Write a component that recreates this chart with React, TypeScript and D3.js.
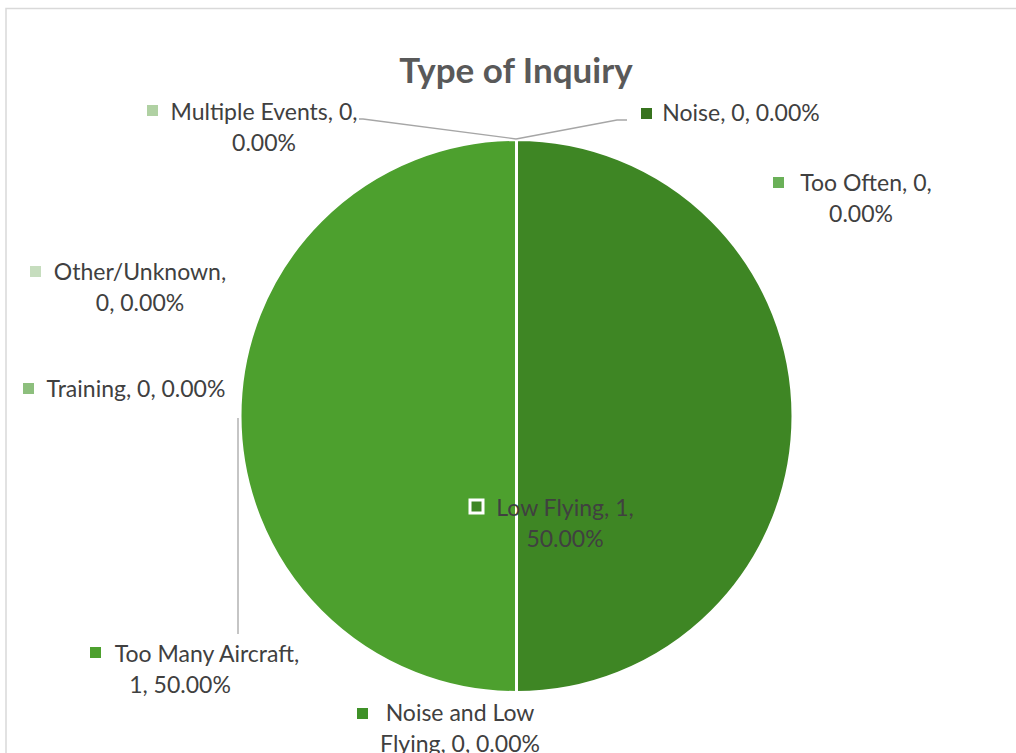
import React from "react";
import * as d3 from "d3";

const categories = [
  "Noise",
  "Too Often",
  "Low Flying",
  "Noise and Low Flying",
  "Too Many Aircraft",
  "Training",
  "Other/Unknown",
  "Multiple Events",
];
const counts = [0, 0, 1, 0, 1, 0, 0, 0];
const colors = [
  "#37731e",
  "#6ab058",
  "#3e8624",
  "#3f9128",
  "#4da02e",
  "#8dbf7d",
  "#c6ddbe",
  "#b0d1a3",
];

// label layout: text-line centres (x), first baseline (y), marker position
const labelLayout = [
  { lines: ["Noise, 0, 0.00%"], xs: [741], y: 121, mx: 641, my: 108 },
  { lines: ["Too Often, 0,", "0.00%"], xs: [866, 861], y: 191, mx: 773, my: 177 },
  { lines: ["Low Flying, 1,", "50.00%"], xs: [565, 565], y: 516, mx: 470, my: 500, inside: true },
  { lines: ["Noise and Low", "Flying, 0, 0.00%"], xs: [460, 460], y: 721, mx: 357, my: 708 },
  { lines: ["Too Many Aircraft,", "1, 50.00%"], xs: [207, 180], y: 662, mx: 90, my: 647 },
  { lines: ["Training, 0, 0.00%"], xs: [136], y: 397, mx: 23, my: 383 },
  { lines: ["Other/Unknown,", "0, 0.00%"], xs: [140, 140], y: 280, mx: 30, my: 266 },
  { lines: ["Multiple Events, 0,", "0.00%"], xs: [264, 264], y: 120, mx: 147, my: 105 },
];

const leaders: [number, number][][] = [
  [[627, 120], [617, 120], [516, 139]],
  [[359, 119], [363, 119], [516, 139]],
  [[238, 634], [238, 418]],
];

const FONT = "Lato, 'Open Sans', sans-serif";

export default function App() {
  const W = 1016;
  const H = 753;
  const cx = 516.5;
  const cy = 416;
  const r = 276.5;
  const pie = d3
    .pie<number>()
    .sort(null)
    .value((d) => d)
    .startAngle(0)
    .endAngle(2 * Math.PI);
  const arcs = pie(counts);
  const arcGen = d3.arc<d3.PieArcDatum<number>>().innerRadius(0).outerRadius(r);
  const line = d3.line();

  return (
    <svg
      width={W}
      height={H}
      style={{ position: "absolute", left: 0, top: 0, background: "#fff" }}
    >
      <rect x={6} y={8.5} width={W + 10} height={H + 10} fill="#fff" stroke="#d9d9d9" strokeWidth={1.5} />
      <text
        x={516}
        y={83}
        textAnchor="middle"
        fontFamily={FONT}
        fontWeight="bold"
        fontSize={35}
        fill="#595959"
      >
        Type of Inquiry
      </text>
      <g transform={`translate(${cx},${cy})`}>
        {arcs.map((a, i) =>
          a.value > 0 ? (
            <path key={categories[i]} d={arcGen(a) || ""} fill={colors[i]} stroke="#fff" strokeWidth={3} />
          ) : null
        )}
      </g>
      {leaders.map((pts, i) => (
        <path key={i} d={line(pts) || ""} fill="none" stroke="#a6a6a6" strokeWidth={1.3} />
      ))}
      {labelLayout.map((l, i) => (
        <g key={i}>
          <rect
            x={l.mx}
            y={l.my}
            width={l.inside ? 13 : 11}
            height={l.inside ? 13 : 11}
            fill={colors[i]}
            stroke={l.inside ? "#fff" : "none"}
            strokeWidth={l.inside ? 3 : 0}
          />
          {l.lines.map((t, j) => (
            <text
              key={j}
              x={l.xs[j]}
              y={l.y + j * 31}
              textAnchor="middle"
              fontFamily={FONT}
              fontSize={23}
              fill="#404040"
            >
              {t}
            </text>
          ))}
        </g>
      ))}
    </svg>
  );
}
